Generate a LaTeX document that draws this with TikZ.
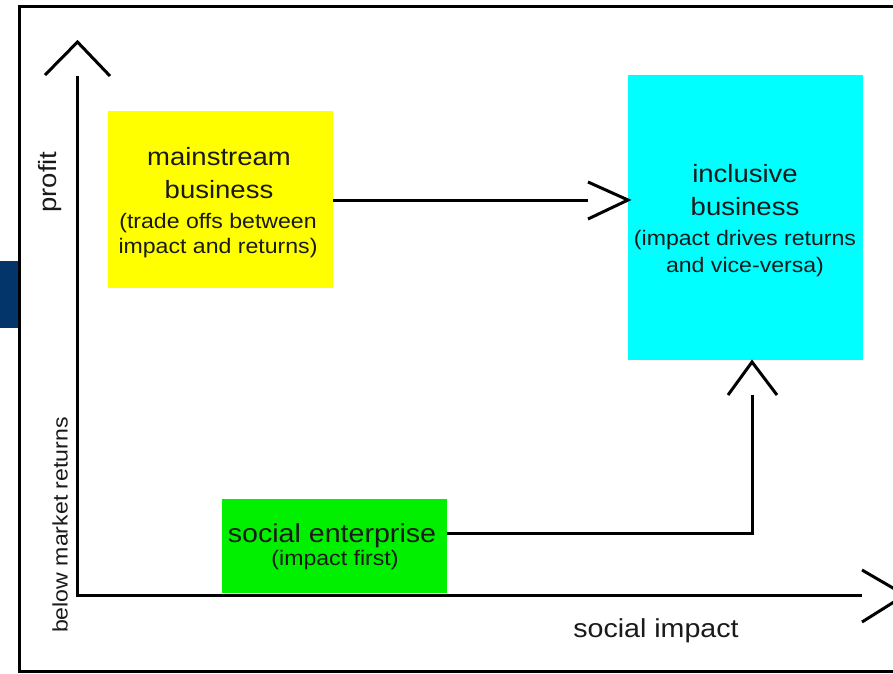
\documentclass[tikz,border=0pt]{standalone}
\usepackage{fontspec}
\setmainfont{Liberation Sans}[FakeStretch=1.1]
\definecolor{ink}{HTML}{1A1A1A}
\definecolor{navy}{HTML}{03346A}
\definecolor{ybox}{HTML}{FFFF00}
\definecolor{cbox}{HTML}{00FFFF}
\definecolor{gbox}{HTML}{00F000}
\begin{document}
\begin{tikzpicture}[x=1pt,y=-1pt,
  box/.style={draw=none, inner sep=0pt, outer sep=0pt},
  big/.style={font=\fontsize{25}{30}\selectfont, text=ink, anchor=base, inner sep=0pt},
  small/.style={font=\fontsize{21}{25}\selectfont, text=ink, anchor=base, inner sep=0pt},
  axis/.style={line width=3pt, black},
  conn/.style={line width=3pt, black}]
\clip (0,0) rectangle (893,673);
\fill[white] (0,0) rectangle (893,673);
% frame and side bar
\fill[navy] (0,261) rectangle (18,328);
\draw[line width=3pt] (905,6) -- (19.5,6) -- (19.5,671) -- (905,671);
% boxes
\node[box, fill=ybox, minimum width=225pt, minimum height=177pt] (mb) at (220.5,199.5) {};
\node[box, fill=cbox, minimum width=235pt, minimum height=285pt] (ib) at (745.5,217.5) {};
\node[box, fill=gbox, minimum width=225pt, minimum height=94pt] (se) at (334.5,546) {};
% texts
\node[big] (mb1) at (219,165) {mainstream};
\node[big] (mb2) at (219,198) {business};
\node[small] (mb3) at (218,228) {(trade offs between};
\node[small] (mb4) at (218,253) {impact and returns)};
\node[big] (ib1) at (745,182) {inclusive};
\node[big] (ib2) at (745,215) {business};
\node[small] (ib3) at (745,245) {(impact drives returns};
\node[small] (ib4) at (745,272) {and vice-versa)};
\node[big, font=\fontsize{26}{30}\selectfont] (se1) at (332,542) {social enterprise};
\node[small] (se2) at (335,565) {(impact first)};
\node[big, font=\fontsize{26}{30}\selectfont] (xl) at (656,637) {social impact};
\node[big, anchor=center, rotate=90] (yl) at (50,182) {profit};
\node[small, anchor=center, rotate=90] (yl2) at (60,525) {below market returns};
% axes
\coordinate (O) at (77.5,595);
\coordinate (ytop) at (77.5,76);
\coordinate (xend) at (862,595);
\coordinate (yapex) at (77.5,42);
\coordinate (xapex) at (905,595);
\draw[axis] (ytop) -- (O) -- (xend);
\draw[axis, line join=miter] (yapex) ++(-32.5,33) -- (yapex) -- ++(32.5,34);
\draw[axis, line join=miter] (xapex) ++(-43,-25) -- (xapex) -- ++(-43,27);
% mainstream -> inclusive
\coordinate (a1) at (588,200);
\coordinate (a1tip) at (ib.west |- a1);
\draw[conn] (mb.east |- a1) -- (a1);
\draw[conn, line join=miter] (a1tip) ++(-40,-18) -- (a1tip) -- ++(-40,19);
% social enterprise -> inclusive
\coordinate (b1) at (752,533);
\coordinate (b2) at (752,395);
\coordinate (b2tip) at (752,362);
\draw[conn] (se.east |- b1) -- (b1) -- (b2);
\draw[conn, line join=miter] (b2tip) ++(-24,33) -- (b2tip) -- ++(25,33);
\end{tikzpicture}
\end{document}
